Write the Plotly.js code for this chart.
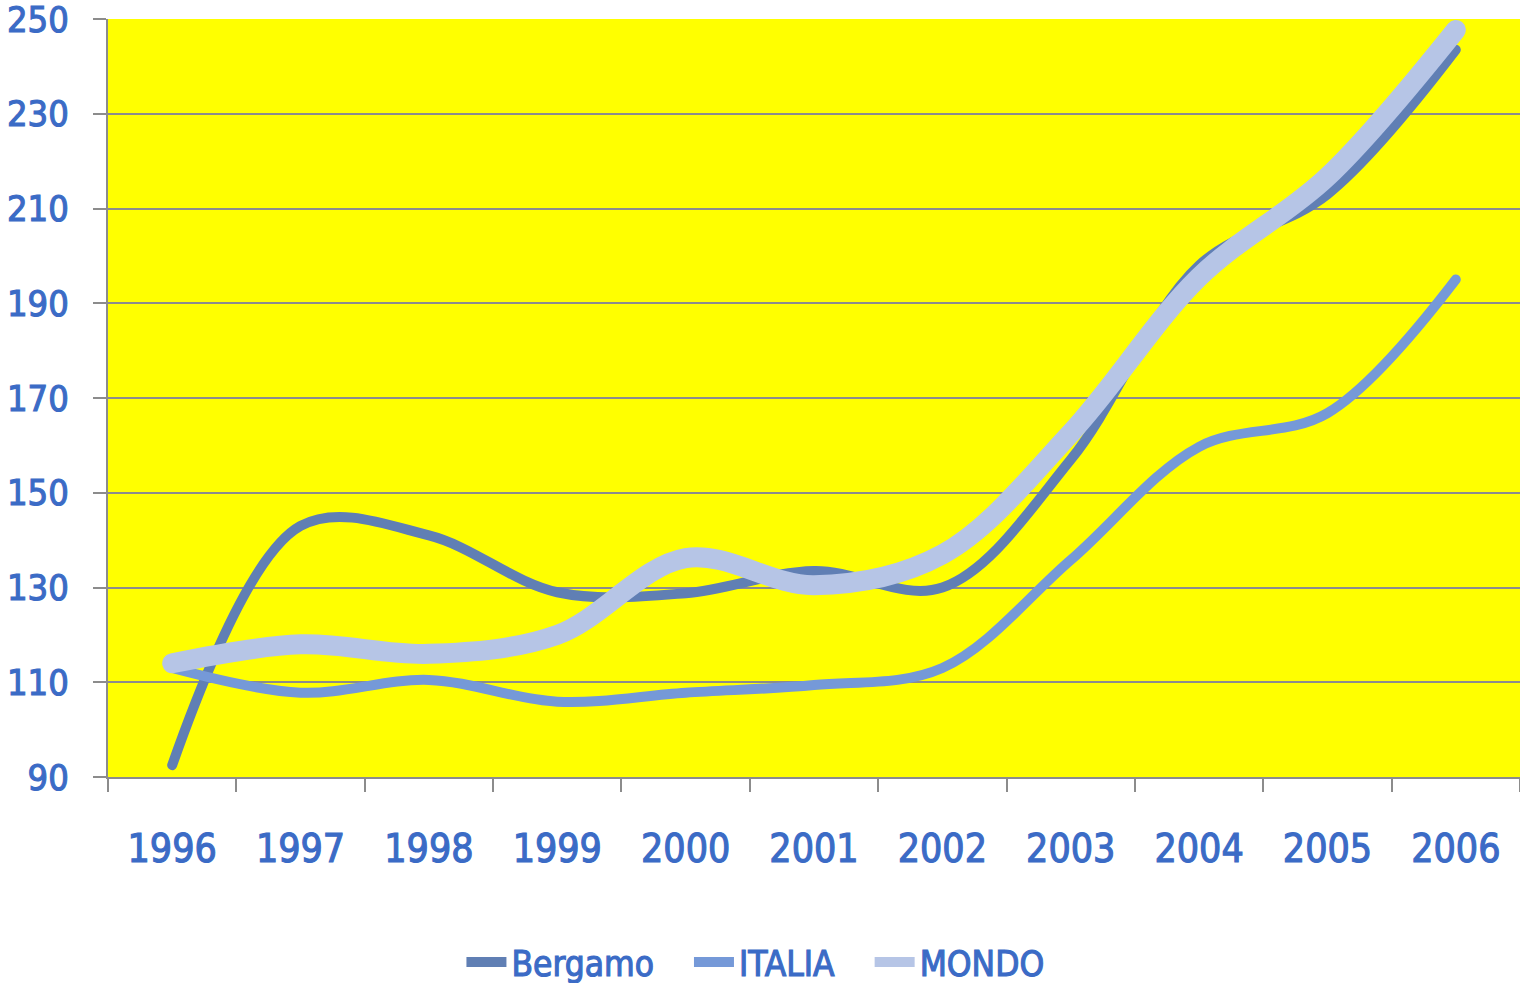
<!DOCTYPE html>
<html>
<head>
<meta charset="utf-8">
<script src="https://cdn.plot.ly/plotly-3.0.1.min.js"></script>
<style>
html,body{margin:0;padding:0;background:#fff;}
#chart{width:1520px;height:983px;}
#chart text{paint-order:stroke;stroke:#3b6bc6;stroke-width:1.1px;}
#chart .scatterlayer path.js-line{stroke-linecap:round;stroke-linejoin:round;}
</style>
</head>
<body>
<div id="chart"></div>
<script>
const years = ["1996","1997","1998","1999","2000","2001","2002","2003","2004","2005","2006"];
const bergamo = [92.5, 143, 141, 129, 128.8, 133.5, 130, 157, 198, 213, 243.5];
const italia  = [113, 107.8, 110.5, 105.9, 107.8, 109.4, 113, 135.8, 159.7, 166.8, 195];
const mondo   = [114, 118, 116, 120, 136.2, 130.5, 137, 162.6, 195.5, 216.7, 247.7];
const yTicks = [90, 110, 130, 150, 170, 190, 210, 230, 250];
const seriesNames = ['Bergamo', 'ITALIA', 'MONDO'];

const textColor = '#3b6bc6';
const fontFam = '"DejaVu Sans Condensed", "DejaVu Sans", sans-serif';
const pad = '\u00a0\u00a0\u00a0';

const traces = [
  {x: years, y: bergamo, name: seriesNames[0] + pad, type: 'scatter', mode: 'lines',
   line: {color: '#607fb4', width: 10, shape: 'spline', smoothing: 1}},
  {x: years, y: italia, name: seriesNames[1] + pad, type: 'scatter', mode: 'lines',
   line: {color: '#7599d8', width: 10, shape: 'spline', smoothing: 1}},
  {x: years, y: mondo, name: seriesNames[2], type: 'scatter', mode: 'lines',
   line: {color: '#b6c5e6', width: 20, shape: 'spline', smoothing: 1}}
];

const layout = {
  width: 1520, height: 983,
  margin: {l: 108, r: 0, t: 19, b: 206},
  paper_bgcolor: '#ffffff',
  plot_bgcolor: '#ffff00',
  showlegend: true,
  legend: {orientation: 'h', x: 0.497, xanchor: 'center', xref: 'container',
           y: 0.021, yanchor: 'middle', yref: 'container',
           font: {family: fontFam, size: 35, color: textColor}, itemwidth: 40},
  xaxis: {
    type: 'category', range: [-0.5, 10.5], tickson: 'boundaries', ticks: 'outside', ticklen: 13, tickwidth: 2,
    tickcolor: '#8c8c8c', showline: true, linecolor: '#8c8c8c', linewidth: 2, automargin: false,
    showgrid: false, zeroline: false, ticklabelstandoff: 36, ticklabeloverflow: 'allow',
    tickfont: {family: fontFam, size: 39, color: textColor}
  },
  yaxis: {
    range: [90, 250], tickvals: yTicks, ticktext: yTicks.map(String), automargin: false,
    ticks: 'outside', ticklen: 13, tickwidth: 2, tickcolor: '#8c8c8c',
    showline: true, linecolor: '#8c8c8c', linewidth: 2,
    showgrid: true, gridcolor: '#8c8c8c', gridwidth: 2, zeroline: false,
    ticklabelstandoff: 17, ticklabeloverflow: 'allow',
    tickfont: {family: fontFam, size: 36, color: textColor}
  }
};

Plotly.newPlot('chart', traces, layout, {displayModeBar: false, staticPlot: true});
</script>
</body>
</html>
